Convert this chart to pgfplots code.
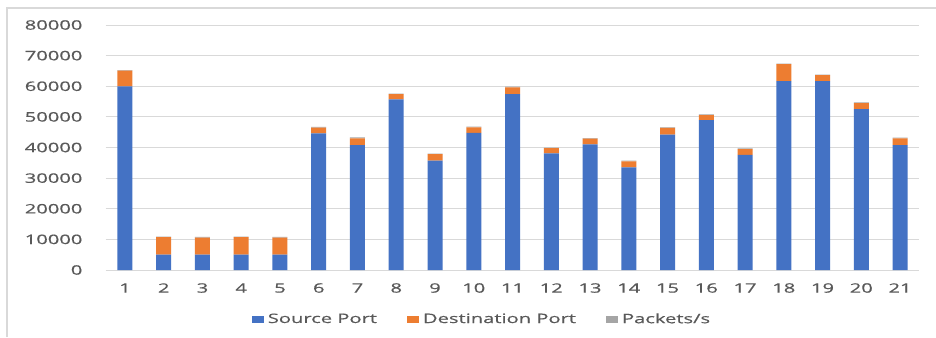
\documentclass[border=0pt]{standalone}
\usepackage{fontspec}
\setmainfont{Open Sans}[FakeStretch=1.55, FakeBold=0.5]
\usepackage{pgfplots}
\pgfplotsset{compat=1.18}
\usepackage{pgfplotstable}
\definecolor{cblue}{HTML}{4472C4}
\definecolor{corange}{HTML}{ED7D31}
\definecolor{cgrey}{HTML}{A5A5A5}
\definecolor{cgrid}{HTML}{D9D9D9}
\definecolor{ctext}{HTML}{595959}
\definecolor{cframe}{HTML}{D9D9D9}
\pgfplotstableread{
x src dst pkt
1  60000 5100 200
2  5000 5700 200
3  5000 5600 200
4  5000 5700 200
5  5000 5600 200
6  44600 1900 200
7  40800 2200 300
8  55700 1700 200
9  35700 2100 200
10 44800 1800 200
11 57400 2200 300
12 38100 1700 200
13 41000 1900 200
14 33500 2000 200
15 44200 2200 200
16 48900 1700 200
17 37600 1900 200
18 61700 5500 200
19 61700 1900 200
20 52500 2000 200
21 40800 2200 200
}\datatable
\begin{document}
\begin{tikzpicture}[x=1pt,y=1pt]
\useasboundingbox (0,0) rectangle (936,-337);
\fill[white] (0,0) rectangle (936,-337);
\draw[cframe, line width=1.2pt] (7,-337) -- (7,-8) -- (936,-8);
\begin{axis}[
  at={(105.6pt,-270pt)}, anchor=south west,
  scale only axis, width=813.8pt, height=245pt,
  ybar stacked, bar width=15pt,
  xmin=0.5, xmax=21.5, ymin=0, ymax=80000,
  xtick={1,...,21}, ytick={0,10000,...,80000},
  axis line style={draw=none},
  major tick length=0pt,
  ymajorgrids, grid style={cgrid, line width=1pt},
  scaled y ticks=false,
  /pgf/number format/assume math mode=true,
  yticklabel={\pgfmathprintnumber[fixed,use comma=false,1000 sep={}]{\tick}},
  ticklabel style={font=\fontsize{13}{15}\selectfont, text=ctext},
  yticklabel style={anchor=east, inner sep=0pt, xshift=-23pt},
  xticklabel style={anchor=center, inner sep=0pt, yshift=-18pt},
  legend columns=3,
  legend style={at={(0.4625,-0.2)}, anchor=center, draw=none, fill=none,
    font=\fontsize{13}{15}\selectfont, text=ctext,
    /tikz/every even column/.append style={column sep=28pt},
    /tikz/every odd column/.append style={column sep=2pt}},
  legend image code/.code={\fill[#1] (0pt,-3.5pt) rectangle (12pt,3.5pt);},
  legend cell align=left,
]
\addplot[fill=cblue, draw=none] table[x=x,y=src]{\datatable};
\addplot[fill=corange, draw=none] table[x=x,y=dst]{\datatable};
\addplot[fill=cgrey, draw=none] table[x=x,y=pkt]{\datatable};
\legend{Source Port, Destination Port, Packets/s}
\end{axis}
\end{tikzpicture}
\end{document}
